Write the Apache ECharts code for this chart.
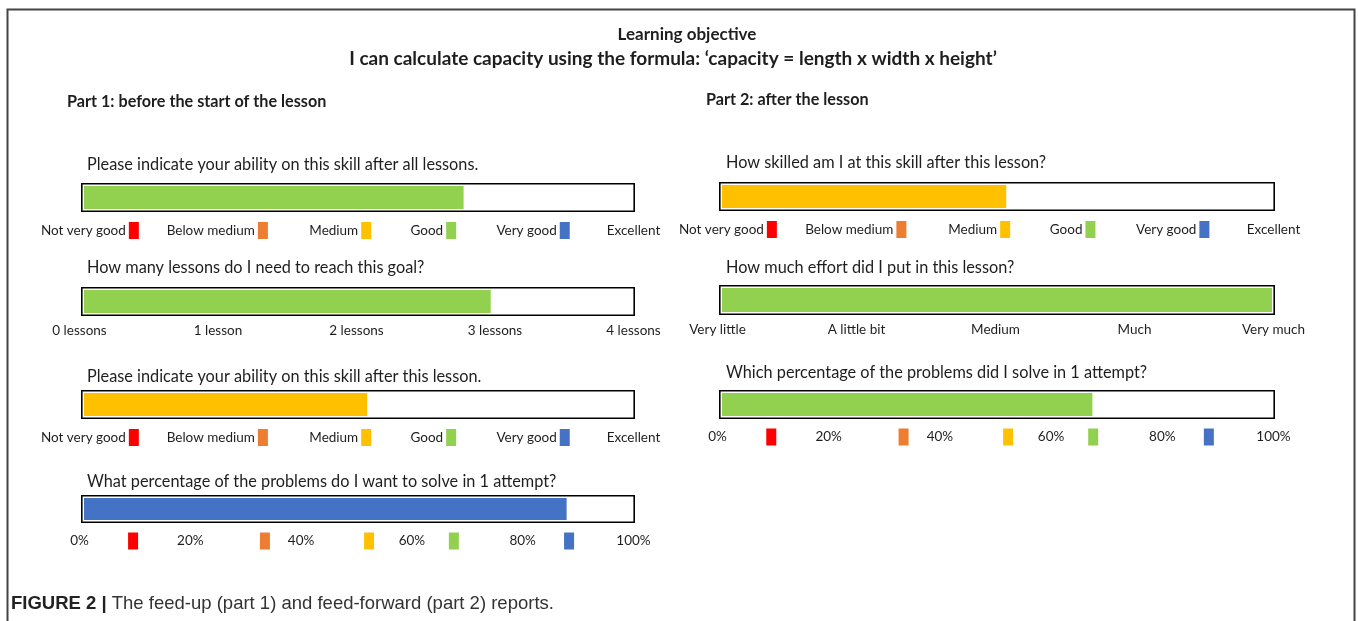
<!DOCTYPE html>
<html>
<head>
<meta charset="utf-8">
<script src="https://cdn.jsdelivr.net/npm/echarts@6/dist/echarts.min.js"></script>
<style>
  html, body { margin: 0; padding: 0; background: #fff; }
  #chart { width: 1358px; height: 621px; }
</style>
</head>
<body>
<div id="chart"></div>
<script>
// scale labels
const abilityLabels = ["Not very good", "Below medium", "Medium", "Good", "Very good", "Excellent"];
const abilityLabelPos = [0.08, 1.23, 2.34, 3.18, 4.08, 5];
const lessonLabels = ["0 lessons", "1 lesson", "2 lessons", "3 lessons", "4 lessons"];
const effortLabels = ["Very little", "A little bit", "Medium", "Much", "Very much"];
const pctTicks = [0, 20, 40, 60, 80, 100];
const pctKeyPos = [9.4, 33.2, 52, 67.3, 88.1];

// answers
const part1Values = [3.48, 2.98, 2.61, 88.2];
const part2Values = [2.61, 4, 67.7];

const questions1 = [
    "Please indicate your ability on this skill after all lessons.",
    "How many lessons do I need to reach this goal?",
    "Please indicate your ability on this skill after this lesson.",
    "What percentage of the problems do I want to solve in 1 attempt?"
];
const questions2 = [
    "How skilled am I at this skill after this lesson?",
    "How much effort did I put in this lesson?",
    "Which percentage of the problems did I solve in 1 attempt?"
];

const keyColors = ["#ff0000", "#ed7d31", "#ffc000", "#92d050", "#4472c4"];
const FONT = "Lato, 'Open Sans', sans-serif";
const CAPTION_FONT = "'Liberation Sans Narrow', 'Liberation Sans', sans-serif";
const INK = "#1e1e1e";

// kind of scale for each bar
const scales = {
    ability: { max: 5, values: abilityLabelPos, margin: 10 },
    lessons: { max: 4, values: [0, 1, 2, 3, 4], margin: 8 },
    effort: { max: 4, values: [0, 1, 2, 3, 4], margin: 8 },
    pct: { max: 100, values: pctTicks.concat(pctKeyPos).sort((a, b) => a - b), margin: 9.5 }
};

const near = (arr, v) => arr.findIndex(a => Math.abs(a - v) < 1e-6);

function labelFor(kind) {
    return v => {
        if (kind === "ability") {
            const i = near(abilityLabelPos, v);
            if (i < 0) return "";
            return "{t|" + abilityLabels[i] + "}" + (i < 5 ? "{k" + i + "|}" : "{s|}");
        }
        if (kind === "lessons") return "{t|" + lessonLabels[Math.round(v)] + "}";
        if (kind === "effort") return "{t|" + effortLabels[Math.round(v)] + "}";
        const t = near(pctTicks, v);
        if (t >= 0) return "{t|" + pctTicks[t] + "%}{s|}";
        const k = near(pctKeyPos, v);
        return k >= 0 ? "{k" + k + "|}" : "";
    };
}

const rich = {
    t: { fontFamily: FONT, fontSize: 13.5, color: INK, padding: [0, 3, 0, 0] },
    s: { width: 0, height: 17 }
};
keyColors.forEach((c, i) => {
    rich["k" + i] = { width: 10, height: 17, backgroundColor: c };
});

const bars = [
    { kind: "ability", value: part1Values[0], color: keyColors[3], left: 81, width: 554, top: 183, height: 29 },
    { kind: "lessons", value: part1Values[1], color: keyColors[3], left: 81, width: 554, top: 287, height: 29 },
    { kind: "ability", value: part1Values[2], color: keyColors[2], left: 81, width: 554, top: 390, height: 29 },
    { kind: "pct", value: part1Values[3], color: keyColors[4], left: 81, width: 554, top: 495, height: 28 },
    { kind: "ability", value: part2Values[0], color: keyColors[2], left: 719, width: 556, top: 182, height: 29 },
    { kind: "effort", value: part2Values[1], color: keyColors[3], left: 719, width: 556, top: 285, height: 30 },
    { kind: "pct", value: part2Values[2], color: keyColors[3], left: 719, width: 556, top: 390, height: 29 }
];

const grid = [], xAxis = [], yAxis = [], series = [];
bars.forEach((b, g) => {
    const sc = scales[b.kind];
    grid.push({ left: b.left, top: b.top, width: b.width, height: b.height });
    xAxis.push({
        type: "value", gridIndex: g, min: 0, max: sc.max,
        axisLine: { show: false }, axisTick: { show: false }, splitLine: { show: false },
        axisLabel: {
            customValues: sc.values, showMinLabel: true, showMaxLabel: true,
            margin: sc.margin, formatter: labelFor(b.kind), rich: rich
        }
    });
    yAxis.push({ type: "category", gridIndex: g, data: ["q"], show: false });
    // coloured answer, with a thin white gap inside the frame
    series.push({
        type: "bar", xAxisIndex: g, yAxisIndex: g, data: [b.value],
        barWidth: b.height, barGap: "-100%", silent: true, z: 2,
        itemStyle: { color: b.color, borderColor: "#fff", borderWidth: 3 }
    });
    // black frame over the full scale
    series.push({
        type: "bar", xAxisIndex: g, yAxisIndex: g, data: [sc.max],
        barWidth: b.height, barGap: "-100%", silent: true, z: 3,
        itemStyle: { color: "rgba(0,0,0,0)", borderColor: "#000", borderWidth: 1.6 }
    });
});

function txt(text, x, y, size, weight, align) {
    return {
        type: "text", x: x, y: y, silent: true,
        style: {
            text: text, fill: INK, align: align || "left", verticalAlign: "middle",
            font: (weight || "normal") + " " + size + "px " + FONT
        }
    };
}

const q1Y = [165, 268, 377, 482];
const q2Y = [163, 268, 373];
const graphic = [
    { type: "rect", silent: true, shape: { x: 7.5, y: 9.5, width: 1347, height: 700 },
      style: { fill: "none", stroke: "#444", lineWidth: 2 } },
    txt("Learning objective", 687, 35, 17, "bold", "center"),
    txt("I can calculate capacity using the formula: \u2018capacity = length x width x height\u2019", 673, 59, 19, "bold", "center"),
    txt("Part 1: before the start of the lesson", 67, 102, 16.2, "bold"),
    txt("Part 2: after the lesson", 706, 100, 16.2, "bold")
];
questions1.forEach((q, i) => graphic.push(txt(q, 87, q1Y[i], 16.3)));
questions2.forEach((q, i) => graphic.push(txt(q, 726, q2Y[i], 16.3)));
graphic.push({
    type: "text", x: 11, y: 604, silent: true,
    style: {
        text: "{b|FIGURE 2 |} The feed-up (part 1) and feed-forward (part 2) reports.",
        verticalAlign: "middle", fill: "#333",
        font: "18.5px " + CAPTION_FONT,
        rich: { b: { fontWeight: "bold", fontSize: 18.5, fill: "#222", fontFamily: CAPTION_FONT } }
    }
});

const chart = echarts.init(document.getElementById("chart"));
chart.setOption({
    animation: false,
    backgroundColor: "#fff",
    grid: grid,
    xAxis: xAxis,
    yAxis: yAxis,
    series: series,
    graphic: graphic
});
</script>
</body>
</html>
